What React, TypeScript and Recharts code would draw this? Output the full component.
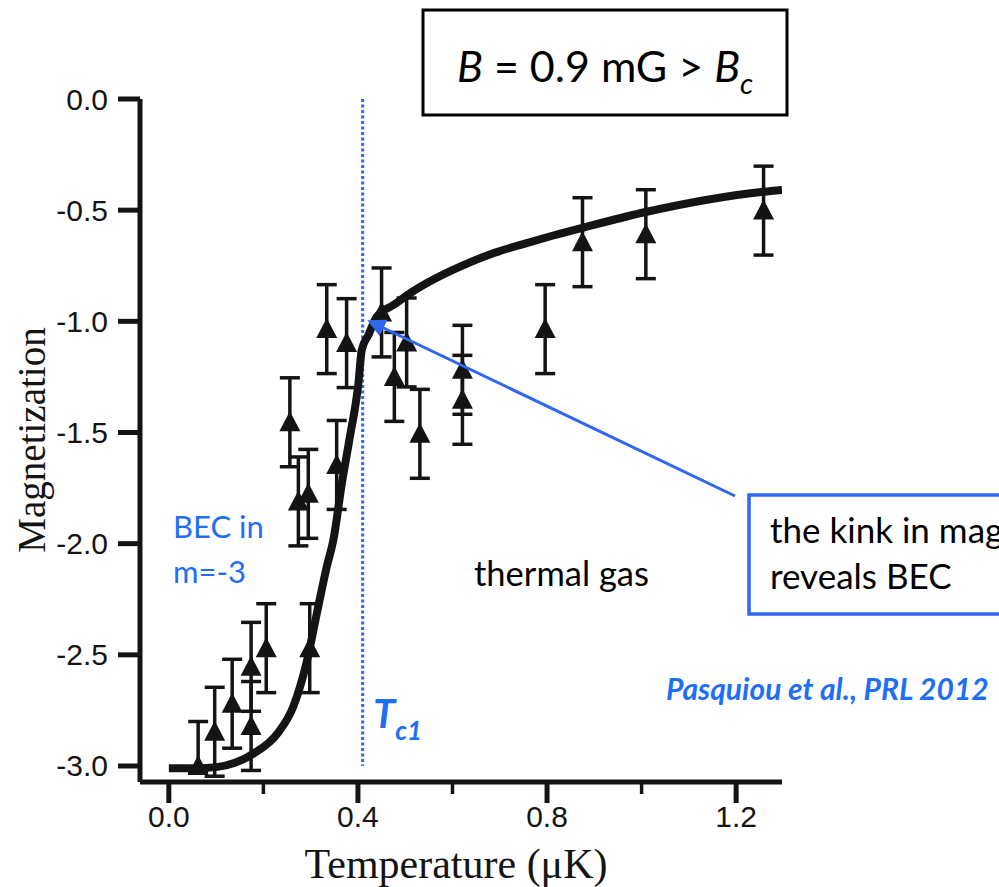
import React from 'react';
import { ComposedChart, Line, Scatter, XAxis, YAxis, ErrorBar, ReferenceLine } from 'recharts';

// Measured data points (temperature in µK, magnetization)
const tempX = [0.062, 0.097, 0.134, 0.174, 0.174, 0.206, 0.256, 0.274, 0.295, 0.298, 0.334, 0.355, 0.376, 0.45, 0.477, 0.503, 0.531, 0.621, 0.621, 0.796, 0.875, 1.009, 1.258];
const magY = [-3.0, -2.846, -2.72, -2.554, -2.82, -2.47, -1.454, -1.81, -1.776, -2.47, -1.035, -1.646, -1.098, -0.96, -1.25, -1.095, -1.506, -1.218, -1.353, -1.035, -0.644, -0.608, -0.502];
const magErrLow = [0.03, 0.2, 0.2, 0.2, 0.2, 0.2, 0.2, 0.2, 0.2, 0.2, 0.2, 0.2, 0.2, 0.2, 0.2, 0.2, 0.2, 0.2, 0.2, 0.2, 0.2, 0.2, 0.2];
const magErrHigh = [0.2, 0.2, 0.2, 0.2, 0.2, 0.2, 0.2, 0.2, 0.2, 0.2, 0.2, 0.2, 0.2, 0.2, 0.2, 0.2, 0.2, 0.2, 0.2, 0.2, 0.2, 0.2, 0.2];

// Fit curve
const fitT = [0, 0.06, 0.1, 0.14, 0.18, 0.23, 0.263, 0.291, 0.313, 0.334, 0.348, 0.366, 0.383, 0.401, 0.408, 0.422, 0.44, 0.475, 0.51, 0.545, 0.616, 0.686, 0.757, 0.813, 0.877, 1.011, 1.258, 1.297];
const fitM = [-3.01, -3.01, -3.005, -2.985, -2.943, -2.853, -2.734, -2.538, -2.314, -2.104, -1.984, -1.729, -1.519, -1.279, -1.129, -1.062, -0.979, -0.927, -0.874, -0.829, -0.754, -0.694, -0.648, -0.614, -0.578, -0.507, -0.417, -0.409];

const xTicks = [0, 0.2, 0.4, 0.6, 0.8, 1.0, 1.2];
const xTickLabels = ['0.0', '', '0.4', '', '0.8', '', '1.2'];
const yTicks = [0, -0.5, -1, -1.5, -2, -2.5, -3];
const yTickLabels = ['0.0', '-0.5', '-1.0', '-1.5', '-2.0', '-2.5', '-3.0'];
const TC1 = 0.41;

const points = tempX.map((x, i) => ({ x, y: magY[i], err: [magErrLow[i], magErrHigh[i]] }));
const fit = fitT.map((x, i) => ({ x, y: fitM[i] }));

const BLUE_TEXT = '#1e6ff5';
const BLUE_LINE = '#2f66f2';
const INK = '#141414';

const XTick = (props: any) => {
  const { x, y, payload } = props;
  const idx = xTicks.findIndex((t) => Math.abs(t - payload.value) < 1e-6);
  const label = idx >= 0 ? xTickLabels[idx] : '';
  const major = label !== '';
  return (
    <g>
      <line x1={x} y1={y} x2={x} y2={y + (major ? 21 : 12)} stroke={INK} strokeWidth={major ? 5 : 3.5} />
      {major && (
        <text x={x} y={y + 45} textAnchor="middle" fontFamily="Liberation Sans, Arial, sans-serif" fontSize={30} fill={INK}>
          {label}
        </text>
      )}
    </g>
  );
};

const YTick = (props: any) => {
  const { x, y, payload } = props;
  const idx = yTicks.findIndex((t) => Math.abs(t - payload.value) < 1e-6);
  const label = idx >= 0 ? yTickLabels[idx] : '';
  return (
    <g>
      <line x1={x - 22} y1={y} x2={x} y2={y} stroke={INK} strokeWidth={5} />
      <text x={x - 32} y={y + 10.5} textAnchor="end" fontFamily="Liberation Sans, Arial, sans-serif" fontSize={30} fill={INK}>
        {label}
      </text>
    </g>
  );
};

const Triangle = (props: any) => {
  const { cx, cy } = props;
  return <polygon points={`${cx},${cy - 11} ${cx - 10.5},${cy + 9} ${cx + 10.5},${cy + 9}`} fill={INK} />;
};

export default function App() {
  return (
    <div style={{ position: 'absolute', left: 0, top: 0, width: 999, height: 887, background: '#fff', overflow: 'hidden' }}>
      <ComposedChart
        width={999}
        height={887}
        margin={{ top: 99, right: 217, bottom: 104, left: 139 }}
      >
        <XAxis
          type="number"
          dataKey="x"
          domain={[-0.061, 1.297]}
          ticks={xTicks}
          allowDataOverflow
          height={1}
          tickSize={0}
          tickMargin={0}
          tickLine={false}
          axisLine={{ stroke: INK, strokeWidth: 5 }}
          tick={<XTick />}
          interval={0}
        />
        <YAxis
          type="number"
          dataKey="y"
          domain={[-3.072, 0]}
          ticks={yTicks}
          allowDataOverflow
          width={1}
          tickSize={0}
          tickMargin={0}
          tickLine={false}
          axisLine={{ stroke: INK, strokeWidth: 5 }}
          tick={<YTick />}
          interval={0}
        />
        <ReferenceLine
          segment={[{ x: TC1, y: 0 }, { x: TC1, y: -3 }]}
          stroke={BLUE_LINE}
          strokeWidth={3}
          strokeDasharray="3 2.5"
        />
        <Scatter data={points} dataKey="y" shape={<Triangle />} isAnimationActive={false}>
          <ErrorBar dataKey="err" direction="y" width={10} stroke={INK} strokeWidth={3.5} isAnimationActive={false} />
        </Scatter>
        <Line
          data={fit}
          dataKey="y"
          type="monotone"
          stroke={INK}
          strokeWidth={8}
          dot={false}
          activeDot={false}
          isAnimationActive={false}
          strokeLinejoin="round"
        />
      </ComposedChart>
      <svg width={999} height={887} style={{ position: 'absolute', left: 0, top: 0, pointerEvents: 'none' }}>
        <defs>
          <marker id="arrowHead" markerWidth="6" markerHeight="6" refX="5" refY="3" orient="auto" markerUnits="strokeWidth">
            <path d="M0,0 L6,3 L0,6 Z" fill={BLUE_LINE} />
          </marker>
        </defs>
        {/* axis titles */}
        <text transform="translate(45,440) rotate(-90)" textAnchor="middle" fontFamily="Liberation Serif, Times New Roman, serif" fontSize={39} fill={INK}>
          Magnetization
        </text>
        <text x={456} y={878} textAnchor="middle" fontFamily="Liberation Serif, Times New Roman, serif" fontSize={42} fill={INK}>
          Temperature (μK)
        </text>
        {/* field box */}
        <rect x={423} y={10} width={364} height={105} fill="#fff" stroke="#000" strokeWidth={3} />
        <text x={457} y={82} fontFamily="Lato, sans-serif" fontSize={43} fill="#000">
          <tspan fontStyle="italic">B</tspan>
          <tspan> = 0.9 mG &gt; </tspan>
          <tspan fontStyle="italic">B</tspan>
          <tspan fontStyle="italic" fontSize={29} dy={12}>c</tspan>
        </text>
        {/* Tc1 label */}
        <text x={373} y={728} fontFamily="Lato, sans-serif" fontWeight="bold" fontStyle="italic" fontSize={40} fill={BLUE_TEXT}>
          T<tspan fontSize={26} dy={12}>c1</tspan>
        </text>
        {/* region labels */}
        <text x={173} y={538} fontFamily="Lato, sans-serif" fontSize={31} fill={BLUE_TEXT}>BEC in</text>
        <text x={173} y={583} fontFamily="Lato, sans-serif" fontSize={31} fill={BLUE_TEXT}>m=-3</text>
        <text x={474} y={586} fontFamily="Lato, sans-serif" fontSize={34.5} fill="#000">thermal gas</text>
        {/* kink annotation */}
        <line x1={735} y1={496} x2={370} y2={321.5} stroke={BLUE_LINE} strokeWidth={3} markerEnd="url(#arrowHead)" />
        <rect x={749} y={495} width={400} height={119} fill="#fff" stroke={BLUE_LINE} strokeWidth={3.5} />
        <text x={770} y={543} fontFamily="Lato, sans-serif" fontSize={35} fill="#000">the kink in magnetization</text>
        <text x={770} y={589} fontFamily="Lato, sans-serif" fontSize={35} fill="#000">reveals BEC</text>
        <text x={666} y={700} fontFamily="Lato, sans-serif" fontWeight="bold" fontStyle="italic" fontSize={30} fill={BLUE_TEXT}>
          Pasquiou et al., PRL 2012
        </text>
      </svg>
    </div>
  );
}
